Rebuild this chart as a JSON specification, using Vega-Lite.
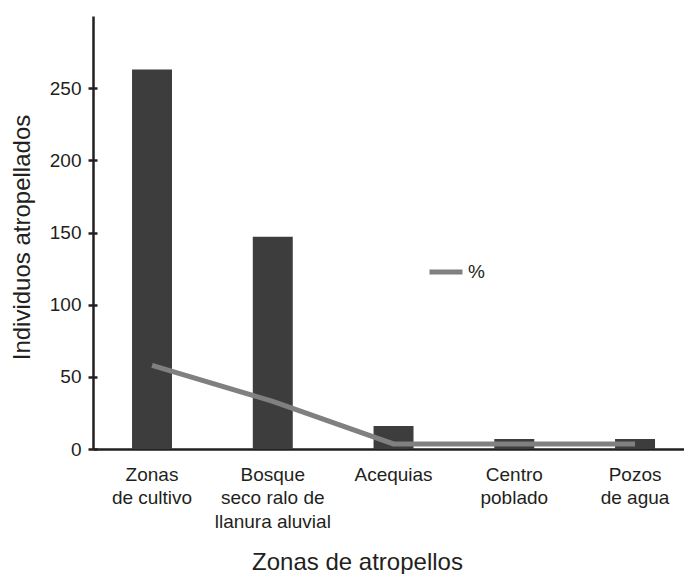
{
  "$schema": "https://vega.github.io/schema/vega-lite/v6.json",
  "width": 591,
  "height": 433,
  "autosize": {"type": "none"},
  "padding": {"left": 93, "top": 16, "right": 0, "bottom": 125},
  "background": "white",
  "config": {
    "view": {"stroke": null},
    "font": "Liberation Sans",
    "axis": {"grid": false, "labelColor": "#231f20", "titleColor": "#231f20", "domainColor": "#231f20", "tickColor": "#231f20"}
  },
  "data": {
    "values": [
      {"zona": "Zonas de cultivo", "individuos": 263, "pct": 58},
      {"zona": "Bosque seco ralo de llanura aluvial", "individuos": 147, "pct": 33},
      {"zona": "Acequias", "individuos": 16, "pct": 3.5},
      {"zona": "Centro poblado", "individuos": 7, "pct": 3.5},
      {"zona": "Pozos de agua", "individuos": 7, "pct": 3.5}
    ]
  },
  "encoding": {
    "x": {
      "field": "zona",
      "type": "nominal",
      "sort": null,
      "scale": {"paddingInner": 0.669, "paddingOuter": 0.2816, "align": 0.574},
      "axis": {
        "title": "Zonas de atropellos",
        "titleFontSize": 24,
        "titleFontWeight": "normal",
        "titleX": 264,
        "titleY": 120,
        "titleBaseline": "alphabetic",
        "titleAlign": "center",
        "labelAngle": 0,
        "labelFontSize": 19,
        "labelPadding": 16,
        "labelBaseline": "top",
        "labelLineHeight": 23.5,
        "labelLimit": 300,
        "labelOverlap": false,
        "ticks": false,
        "tickSize": 0,
        "domainWidth": 2.5,
        "labelExpr": "datum.value == 'Zonas de cultivo' ? ['Zonas', 'de cultivo'] : datum.value == 'Bosque seco ralo de llanura aluvial' ? ['Bosque', 'seco ralo de', 'llanura aluvial'] : datum.value == 'Centro poblado' ? ['Centro', 'poblado'] : datum.value == 'Pozos de agua' ? ['Pozos', 'de agua'] : datum.value"
      }
    }
  },
  "layer": [
    {
      "mark": {"type": "bar", "color": "#3d3d3d"},
      "encoding": {
        "y": {
          "field": "individuos",
          "type": "quantitative",
          "scale": {"domain": [0, 300], "nice": false},
          "axis": {
            "title": "Individuos atropellados",
            "titleFontSize": 24,
            "titleFontWeight": "normal",
            "titleX": -64,
            "titleY": 221,
            "titleBaseline": "alphabetic",
            "titleAlign": "center",
            "titleAngle": -90,
            "values": [0, 50, 100, 150, 200, 250],
            "labelFontSize": 19,
            "labelPadding": 7,
            "tickSize": 5,
            "tickWidth": 2.5,
            "domainWidth": 2.5
          }
        }
      }
    },
    {
      "mark": {"type": "line", "strokeWidth": 5, "strokeCap": "butt"},
      "encoding": {
        "y": {
          "field": "pct",
          "type": "quantitative",
          "scale": {"domain": [0, 300], "nice": false},
          "axis": {
            "orient": "left",
            "title": null,
            "labels": false,
            "domain": false,
            "values": [0, 50, 100, 150, 200, 250],
            "tickSize": -4,
            "tickWidth": 2.5
          }
        },
        "color": {
          "datum": "%",
          "type": "nominal",
          "scale": {"range": ["#808080"]},
          "legend": {
            "title": null,
            "orient": "none",
            "legendX": 334,
            "legendY": 237,
            "symbolType": "stroke",
            "symbolStrokeWidth": 5,
            "symbolSize": 1089,
            "labelFontSize": 19,
            "labelOffset": 3,
            "labelColor": "#231f20",
            "padding": 0
          }
        }
      }
    }
  ],
  "resolve": {"axis": {"y": "independent"}}
}
